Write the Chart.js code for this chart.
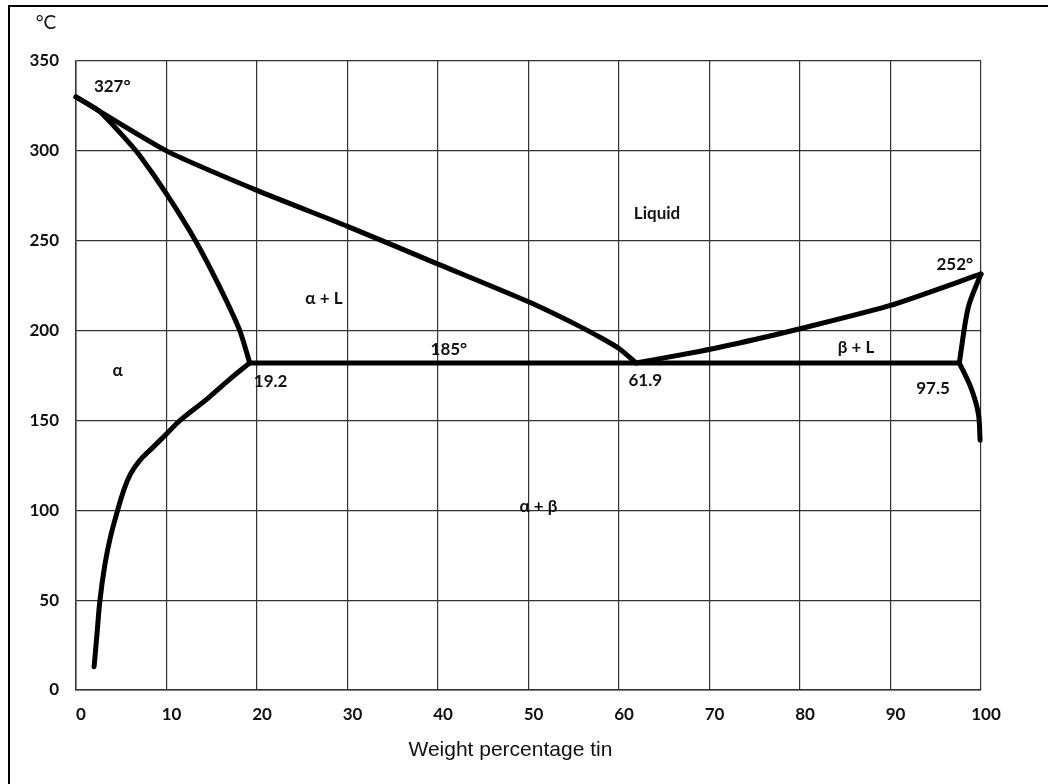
<!DOCTYPE html>
<html>
<head>
<meta charset="utf-8">
<script src="https://cdn.jsdelivr.net/npm/chart.js@4/dist/chart.umd.min.js"></script>
<style>
  body { margin: 0; background: #fff; }
  #wrap { position: relative; width: 1048px; height: 784px; }
  #frame { position: absolute; left: 8px; top: 5px; right: 0; bottom: 0;
           border-top: 2px solid #000; border-left: 2px solid #000; pointer-events: none; }
</style>
</head>
<body>
<div id="wrap">
  <canvas id="graf_PbSn" width="1048" height="784"></canvas>
  <div id="frame"></div>
</div>
<script>
// Curvas del diagrama (x = % peso de estaño, t = temperatura en °C)
var liqIzqX = [0, 10, 20, 30, 40, 50, 55, 58, 60, 61.9];
var liqIzqT = [330, 300, 278, 258, 237, 216, 204, 196, 190, 182];

var solIzqX = [0, 2.6, 5.6, 7.1, 10, 13.2, 15.8, 18.1, 19.2];
var solIzqT = [330, 322, 306, 297, 276, 250, 225, 200, 182];

var solvIzqX = [19.2, 17, 14.5, 11.5, 10, 8.5, 7.1, 6, 5.2, 4.6, 3.8, 3.2, 2.65, 2.3, 2.0];
var solvIzqT = [182, 173, 162, 150, 142.5, 135, 128, 120, 110, 100, 85, 70, 50, 30, 13];

var eutX = [19.2, 97.5];
var eutT = [182, 182];

var liqDerX = [61.9, 69, 75, 80, 90, 100];
var liqDerT = [182, 188.5, 195, 201, 214, 231.5];

var solDerX = [100, 98.6, 97.6];
var solDerT = [231.5, 213, 182];

var solvDerX = [97.6, 98.9, 99.7, 99.9];
var solvDerT = [182, 168, 154, 139];

// Etiquetas del diagrama
var etiquetas = [
  { txt: '327°',   x: 4.0,  t: 336 },
  { txt: 'Liquid', x: 64.2, t: 265 },
  { txt: 'α + L',  x: 27.4, t: 218 },
  { txt: '185°',   x: 41.2, t: 189.5 },
  { txt: 'α',      x: 4.6,  t: 178 },
  { txt: '19.2',   x: 21.5, t: 171.5 },
  { txt: '61.9',   x: 62.9, t: 172 },
  { txt: 'β + L',  x: 86.2, t: 190.5 },
  { txt: '97.5',   x: 94.7, t: 168 },
  { txt: '252°',   x: 97.1, t: 236.5 },
  { txt: 'α + β',  x: 51.1, t: 102 }
];

function puntos(xs, ts) {
  return xs.map(function (x, i) { return { x: x, y: ts[i] }; });
}

function curva(xs, ts, tension) {
  return {
    data: puntos(xs, ts),
    borderColor: '#000',
    borderWidth: 5,
    borderCapStyle: 'round',
    borderJoinStyle: 'round',
    pointRadius: 0,
    fill: false,
    tension: tension,
    clip: false
  };
}

var fuente = 'Lato, "Open Sans", sans-serif';

// Plugin para los textos del diagrama
var textos = {
  id: 'textos',
  afterDatasetsDraw: function (chart) {
    var ctx = chart.ctx;
    var sx = chart.scales.x, sy = chart.scales.y;
    ctx.save();
    ctx.fillStyle = '#111';
    ctx.textAlign = 'center';
    ctx.textBaseline = 'middle';
    ctx.font = 'bold 17px ' + fuente;
    etiquetas.forEach(function (e) {
      ctx.fillText(e.txt, sx.getPixelForValue(e.x), sy.getPixelForValue(e.t));
    });
    ctx.font = '19px ' + fuente;
    ctx.fillText('°C', sy.left + 46, chart.chartArea.top - 38);
    ctx.font = '21px "Liberation Sans", Arial, sans-serif';
    ctx.fillText('Weight percentage tin', sx.getPixelForValue(48), 750);
    ctx.restore();
  }
};

var ctx = document.getElementById('graf_PbSn').getContext('2d');

var graf = new Chart(ctx, {
  type: 'line',
  data: {
    datasets: [
      curva(liqIzqX, liqIzqT, 0.2),
      curva(solIzqX, solIzqT, 0.2),
      curva(solvIzqX, solvIzqT, 0.4),
      curva(eutX, eutT, 0),
      curva(liqDerX, liqDerT, 0.2),
      curva(solDerX, solDerT, 0.3),
      curva(solvDerX, solvDerT, 0.35)
    ]
  },
  options: {
    responsive: false,
    animation: false,
    devicePixelRatio: 1,
    layout: { padding: { top: 61, right: 67, left: 0, bottom: 0 } },
    plugins: { legend: { display: false }, tooltip: { enabled: false } },
    scales: {
      x: {
        type: 'linear',
        min: 0, max: 100,
        afterFit: function (s) { s.height = 94; },
        ticks: { stepSize: 10, padding: 14, labelOffset: 5, color: '#111',
                 font: { family: fuente, size: 17, weight: 'bold' } },
        grid: { color: '#333', lineWidth: 1.2, drawTicks: false },
        border: { color: '#333', width: 1.5 }
      },
      y: {
        min: 0, max: 350,
        afterFit: function (s) { s.width = 76; },
        ticks: { stepSize: 50, padding: 17, color: '#111',
                 font: { family: fuente, size: 17, weight: 'bold' } },
        grid: { color: '#333', lineWidth: 1.2, drawTicks: false },
        border: { color: '#333', width: 1.5 }
      }
    }
  },
  plugins: [textos]
});
</script>
</body>
</html>
